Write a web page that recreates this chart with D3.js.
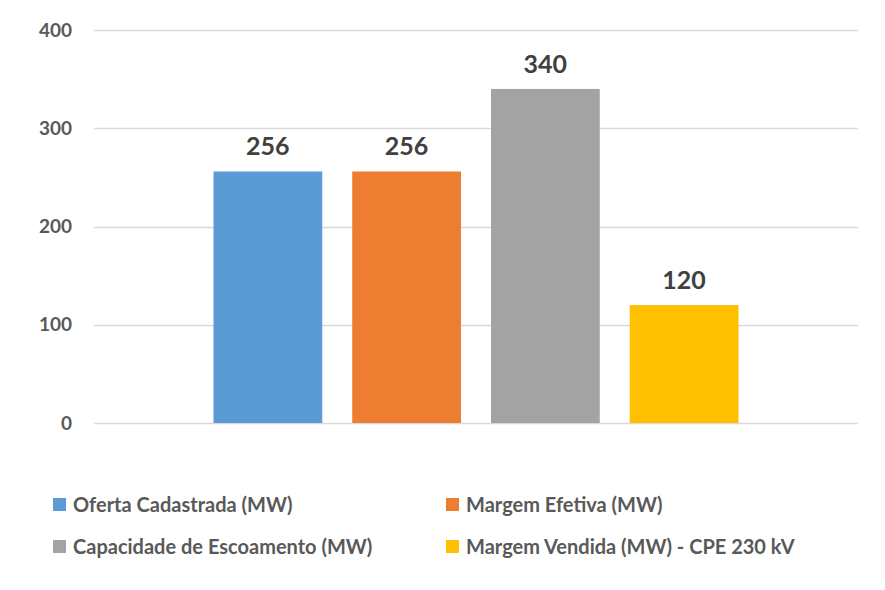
<!DOCTYPE html>
<html>
<head>
<meta charset="utf-8">
<script src="https://cdn.jsdelivr.net/npm/d3@7"></script>
<style>
  body { margin: 0; background: #fff; }
  svg { display: block; font-family: Lato, "Open Sans", sans-serif; }
</style>
</head>
<body>
<div id="chart"></div>
<script>
/* Single-category grouped bar chart with 2x2 legend */

const categories = [""];
const seriesNames = [
  "Oferta Cadastrada (MW)",
  "Margem Efetiva (MW)",
  "Capacidade de Escoamento (MW)",
  "Margem Vendida (MW) - CPE 230 kV"
];
const seriesValues = [256, 256, 340, 120];
const seriesColors = ["#5b9bd5", "#ed7d31", "#a5a5a5", "#ffc000"];
const yTicks = [0, 100, 200, 300, 400];

const width = 885, height = 590;
const margin = { top: 30, right: 27, bottom: 167, left: 94 };

const svg = d3.select("#chart").append("svg")
  .attr("width", width)
  .attr("height", height);

// fine dither pattern for the gray bar
const defs = svg.append("defs");
const pat = defs.append("pattern")
  .attr("id", "dither")
  .attr("width", 2).attr("height", 2)
  .attr("patternUnits", "userSpaceOnUse");
pat.append("rect").attr("width", 2).attr("height", 2).attr("fill", "#a9a9a9");
pat.append("rect").attr("width", 1).attr("height", 1).attr("fill", "#9d9d9d");
pat.append("rect").attr("x", 1).attr("y", 1).attr("width", 1).attr("height", 1).attr("fill", "#9d9d9d");

const y = d3.scaleLinear()
  .domain([0, 400])
  .range([height - margin.bottom, margin.top]);

const x0 = d3.scaleBand()
  .domain(categories)
  .range([margin.left, width - margin.right])
  .paddingInner(0)
  .paddingOuter(0.2276);

const x1 = d3.scaleBand()
  .domain(seriesNames)
  .range([0, x0.bandwidth()])
  .paddingInner(0.216)
  .paddingOuter(0);

// gridlines
svg.append("g")
  .selectAll("line")
  .data(yTicks)
  .join("line")
  .attr("x1", margin.left)
  .attr("x2", width - margin.right)
  .attr("y1", d => Math.round(y(d)) + 0.5)
  .attr("y2", d => Math.round(y(d)) + 0.5)
  .attr("stroke", "#d9d9d9")
  .attr("stroke-width", 1.5);

// y axis labels
svg.append("g")
  .selectAll("text")
  .data(yTicks)
  .join("text")
  .attr("x", 72)
  .attr("y", d => y(d))
  .attr("dy", "0.35em")
  .attr("text-anchor", "end")
  .attr("font-size", 19)
  .attr("font-weight", 700)
  .attr("fill", "#595959")
  .text(d => d);

const data = seriesNames.map((name, i) => ({ name, value: seriesValues[i], color: seriesColors[i] }));

const group = svg.append("g")
  .attr("transform", `translate(${x0(categories[0])},0)`);

group.selectAll("rect")
  .data(data)
  .join("rect")
  .attr("x", d => x1(d.name))
  .attr("width", x1.bandwidth())
  .attr("y", d => y(d.value))
  .attr("height", d => y(0) - y(d.value))
  .attr("fill", (d, i) => i === 2 ? "url(#dither)" : d.color);

group.selectAll(".val")
  .data(data)
  .join("text")
  .attr("class", "val")
  .attr("x", d => x1(d.name) + x1.bandwidth() / 2)
  .attr("y", d => y(d.value) - 16)
  .attr("text-anchor", "middle")
  .attr("font-size", 25)
  .attr("font-weight", 700)
  .attr("fill", "#404040")
  .text(d => d.value);

// legend
const legendPos = [
  { x: 53, y: 505 }, { x: 446, y: 505 },
  { x: 53, y: 547 }, { x: 446, y: 547 }
];
const legend = svg.append("g")
  .selectAll("g")
  .data(data)
  .join("g")
  .attr("transform", (d, i) => `translate(${legendPos[i].x},${legendPos[i].y})`);

legend.append("rect")
  .attr("x", 0).attr("y", -7)
  .attr("width", 13).attr("height", 13)
  .attr("fill", (d, i) => i === 2 ? "url(#dither)" : d.color);

legend.append("text")
  .attr("x", 20)
  .attr("y", 0)
  .attr("dy", "0.35em")
  .attr("font-size", 20)
  .attr("font-weight", 700)
  .attr("fill", "#595959")
  .text(d => d.name);
</script>
</body>
</html>
